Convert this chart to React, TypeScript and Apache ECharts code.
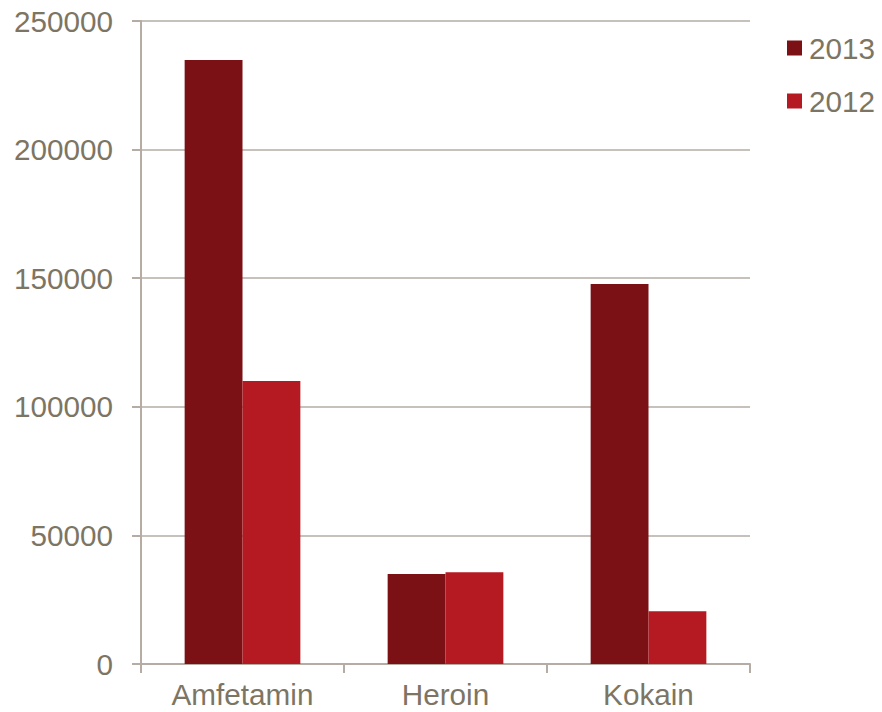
import React, { useEffect, useRef } from "react";
import * as echarts from "echarts";

const categories = ["Amfetamin", "Heroin", "Kokain"];
const values2013 = [234800, 35000, 147700];
const values2012 = [110000, 35700, 20500];
const seriesNames = ["2013", "2012"];

const textColor = "#7D7563";
const lineColor = "#B5ADA4";
const FONT = "Liberation Sans, Arial, sans-serif";
const FS = 29.7;

export default function App() {
  const ref = useRef<HTMLDivElement>(null);
  useEffect(() => {
    const chart = echarts.init(ref.current!, null, { renderer: "svg" });
    chart.setOption({
      animation: false,
      backgroundColor: "#ffffff",
      textStyle: { fontFamily: FONT },
      legend: {
        orient: "vertical",
        left: 787,
        top: 33,
        padding: 0,
        itemWidth: 15,
        itemHeight: 15,
        itemGap: 23,
        icon: "rect",
        textStyle: { color: textColor, fontSize: FS, fontFamily: FONT, padding: [0, 0, 0, 2] },
        data: seriesNames,
      },
      grid: { left: 141, right: 132, top: 21, bottom: 48, containLabel: false },
      xAxis: {
        type: "category",
        data: categories,
        axisLine: { lineStyle: { color: lineColor, width: 2 } },
        axisTick: { show: true, length: 9, lineStyle: { color: lineColor, width: 2 } },
        axisLabel: { color: textColor, fontSize: FS, margin: 15, fontFamily: FONT },
      },
      yAxis: {
        type: "value",
        min: 0,
        max: 250000,
        interval: 50000,
        axisLine: { show: true, lineStyle: { color: lineColor, width: 2 } },
        axisTick: { show: true, length: 9, lineStyle: { color: lineColor, width: 2 } },
        splitLine: { lineStyle: { color: lineColor, width: 1.5 } },
        axisLabel: {
          color: textColor,
          fontSize: FS,
          margin: 28,
          fontFamily: FONT,
          formatter: (v: number) => String(v),
        },
      },
      series: [
        {
          name: seriesNames[0],
          type: "bar",
          data: values2013,
          itemStyle: { color: "#7B1015" },
          barGap: "0%",
          barCategoryGap: "43%",
        },
        {
          name: seriesNames[1],
          type: "bar",
          data: values2012,
          itemStyle: { color: "#B51A22" },
          barGap: "0%",
          barCategoryGap: "43%",
        },
      ],
    });
    return () => chart.dispose();
  }, []);
  return <div ref={ref} style={{ width: 882, height: 712, position: "absolute", left: 0, top: 0 }} />;
}
